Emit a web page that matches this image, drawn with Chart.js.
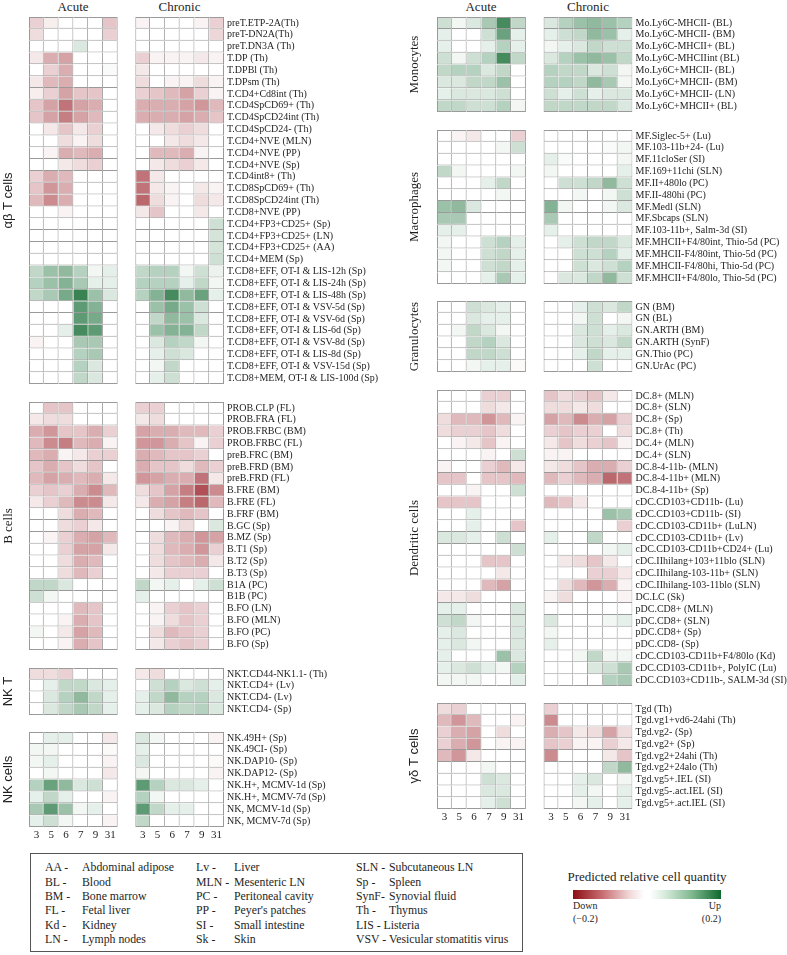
<!DOCTYPE html>
<html><head><meta charset="utf-8">
<script src="https://cdn.jsdelivr.net/npm/chart.js@4"></script>
<style>
body{margin:0;background:#fff;width:787px;height:955px;position:relative;overflow:hidden;font-family:"Liberation Serif",serif;color:#1e1e1e}
canvas{position:absolute}
.hd{position:absolute;font-family:"Liberation Serif",serif;font-size:13px;transform:translate(-50%,-50%);white-space:nowrap}
#legbox{position:absolute;left:30px;top:853px;width:493px;height:99px;border:1.5px solid #555;box-sizing:border-box}
.lt{position:absolute;font-family:"Liberation Serif",serif;font-size:11.8px;white-space:nowrap;transform:translateY(-50%);line-height:14px}
#cbar{position:absolute;left:573px;top:890px;width:148px;height:9px;
 background:linear-gradient(to right,rgb(140,15,20) 0%,rgb(200,110,115) 20%,rgb(240,215,215) 38%,#fff 48%,#fff 52%,rgb(215,235,220) 62%,rgb(130,185,145) 80%,rgb(15,105,45) 100%)}
.cb{position:absolute;font-family:"Liberation Serif",serif;font-size:10px;white-space:nowrap;line-height:12px}
</style></head><body>
<script>
// ---------------- data ----------------
const columns = ['3','5','6','7','9','31'];

const abtLabels = ['preT.ETP-2A(Th)','preT-DN2A(Th)','preT.DN3A (Th)','T.DP (Th)','T.DPBl (Th)','T.DPsm (Th)','T.CD4+Cd8int (Th)','T.CD4SpCD69+ (Th)','T.CD4SpCD24int (Th)','T.CD4SpCD24- (Th)','T.CD4+NVE (MLN)','T.CD4+NVE (PP)','T.CD4+NVE (Sp)','T.CD4int8+ (Th)','T.CD8SpCD69+ (Th)','T.CD8SpCD24int (Th)','T.CD8+NVE (PP)','T.CD4+FP3+CD25+ (Sp)','T.CD4+FP3+CD25+ (LN)','T.CD4+FP3+CD25+ (AA)','T.CD4+MEM (Sp)','T.CD8+EFF, OT-I & LIS-12h (Sp)','T.CD8+EFF, OT-I & LIS-24h (Sp)','T.CD8+EFF, OT-I & LIS-48h (Sp)','T.CD8+EFF, OT-I & VSV-5d (Sp)','T.CD8+EFF, OT-I & VSV-6d (Sp)','T.CD8+EFF, OT-I & LIS-6d (Sp)','T.CD8+EFF, OT-I & VSV-8d (Sp)','T.CD8+EFF, OT-I & LIS-8d (Sp)','T.CD8+EFF, OT-I & VSV-15d (Sp)','T.CD8+MEM, OT-I & LIS-100d (Sp)'];
const abtAcute = [
 [-0.04,-0.015,0,0,0,-0.05],[-0.03,0,0,0,0,-0.04],[0,0,0,0.03,0,0],[-0.02,-0.07,-0.08,0,0,0],
 [0,-0.04,-0.07,0,0,0.005],[-0.02,-0.06,-0.07,0,0,0],[-0.015,-0.04,-0.08,-0.05,-0.05,0],[-0.05,-0.08,-0.12,-0.08,-0.07,0],
 [-0.05,-0.08,-0.11,-0.08,-0.06,0],[0,-0.02,-0.05,-0.02,-0.04,0],[0,0,-0.03,-0.01,-0.03,0],[0,-0.01,-0.07,-0.06,-0.07,0],
 [0,0,-0.02,-0.03,-0.04,0],[-0.04,-0.07,-0.06,0,0,0],[-0.05,-0.09,-0.07,0,0,0],[-0.06,-0.10,-0.07,0,0,0],
 [0,0,-0.01,0,0,0],[0,0,0,0,0,0],[0,0,0,0,0,0],[0,0,0,0,0,0],[0,0,0,0,0,0],
 [0.05,0.08,0.09,0.06,0.01,0.02],[0.06,0.08,0.10,0.07,0.02,0.02],[0.05,0.07,0.11,0.16,0.08,0.03],
 [0,0,0,0.13,0.10,0],[0,0,0,0.13,0.11,0],[0,0,0.02,0.15,0.13,0],[-0.01,0,0,0.07,0.07,0],
 [0,0,0,0.06,0.07,0],[0,0,0,0.06,0.03,0],[0,0,0,0.05,0.03,0]];
const abtChronic = [
 [-0.01,0,0,0,-0.01,-0.04],[0,0,0,0,0,-0.035],[0,0,0,0,0,0],[-0.04,-0.01,-0.01,-0.01,-0.02,-0.01],
 [-0.02,0,0,0,0,0],[-0.03,0,-0.01,-0.01,-0.03,-0.01],[-0.04,-0.05,-0.06,-0.08,-0.04,-0.01],[-0.07,-0.07,-0.07,-0.08,-0.09,-0.06],
 [-0.07,-0.07,-0.07,-0.08,-0.07,-0.05],[0,-0.02,-0.03,-0.04,-0.03,0],[0,0,-0.02,-0.03,-0.02,0],[0,-0.06,-0.06,-0.07,-0.01,0],
 [0,-0.02,-0.03,-0.04,-0.02,0],[-0.12,-0.02,0,0,0,0],[-0.12,-0.02,-0.01,0,-0.02,-0.01],[-0.13,-0.03,-0.01,0,-0.03,-0.02],
 [-0.02,-0.05,0,0,-0.02,0],[0,0,0,0,0,0.04],[0,0,0,0,0,0.035],[0,0,0,0,0,0.035],[0,0,0,0,0,0.04],
 [0.05,0.06,0.06,0.01,0.04,0.015],[0.06,0.06,0.06,0.02,0.05,0.01],[0.06,0.10,0.15,0.09,0.12,0.02],
 [0,0.08,0.11,0.08,0.04,0],[0,0.05,0.09,0.08,0.03,0],[0,0.08,0.10,0.10,0.05,0],[0,0.03,0.06,0.05,0.01,0],
 [0,0.02,0.04,0.03,0,0],[0,0.01,0.05,0,0,0],[0,0.02,0.04,0,0,0]];

const bLabels = ['PROB.CLP (FL)','PROB.FRA (FL)','PROB.FRBC (BM)','PROB.FRBC (FL)','preB.FRC (BM)','preB.FRD (BM)','preB.FRD (FL)','B.FRE (BM)','B.FRE (FL)','B.FRF (BM)','B.GC (Sp)','B.MZ (Sp)','B.T1 (Sp)','B.T2 (Sp)','B.T3 (Sp)','B1A (PC)','B1B (PC)','B.FO (LN)','B.FO (MLN)','B.FO (PC)','B.FO (Sp)'];
const bAcute = [
 [0,-0.05,-0.05,0,0,0],[-0.02,-0.03,-0.03,0,0,0],[-0.07,-0.09,-0.05,-0.05,-0.07,-0.04],[-0.06,-0.10,-0.11,-0.06,-0.07,-0.01],
 [-0.06,-0.07,-0.01,-0.02,-0.04,-0.04],[-0.05,-0.07,-0.05,-0.03,-0.05,0],[-0.06,-0.08,-0.07,-0.06,-0.07,-0.02],[-0.04,-0.05,-0.04,-0.07,-0.10,-0.06],
 [-0.02,-0.04,-0.06,-0.10,-0.10,-0.02],[0,0,-0.03,-0.07,-0.06,0],[0,0,-0.03,-0.04,-0.02,0],[0,-0.01,-0.04,-0.07,-0.08,-0.06],
 [0,0,-0.04,-0.08,-0.08,-0.02],[0,0,-0.03,-0.07,-0.06,0],[0,0,-0.03,-0.06,-0.04,0],[0.05,0.05,0.03,0,0,0],
 [0.04,0.01,0,0,0,0],[0,0,0,-0.06,-0.05,0],[0,0,-0.01,-0.07,-0.05,0],[0.01,0,-0.02,-0.08,-0.06,0],[0,0,-0.01,-0.07,-0.05,0]];
const bChronic = [
 [-0.04,-0.04,0,0,0,0],[-0.02,-0.03,0,0,0,0],[-0.08,-0.07,-0.07,-0.06,-0.06,-0.04],[-0.09,-0.09,-0.07,-0.05,-0.01,-0.04],
 [-0.07,-0.06,-0.05,-0.05,-0.04,0],[-0.07,-0.05,-0.05,-0.03,-0.06,-0.04],[-0.09,-0.08,-0.07,-0.07,-0.12,-0.02],[-0.03,-0.05,-0.08,-0.11,-0.15,-0.10],
 [-0.02,-0.07,-0.08,-0.11,-0.13,-0.06],[0,-0.03,-0.05,-0.06,-0.05,0],[0,0,-0.01,-0.03,0,0.03],[0,-0.03,-0.06,-0.07,-0.09,-0.08],
 [0,-0.03,-0.06,-0.07,-0.09,-0.04],[0,-0.03,-0.05,-0.06,-0.07,-0.02],[0,-0.02,-0.04,-0.04,-0.04,0],[0.05,0.01,0.02,0,0.02,0.04],
 [0.02,0,0,0,0,0],[0,-0.01,-0.04,-0.05,-0.04,0],[0,-0.01,-0.03,-0.05,-0.04,0],[0,-0.03,-0.06,-0.05,-0.04,0],[0,-0.02,-0.04,-0.05,-0.04,0]];

const nktLabels = ['NKT.CD44-NK1.1- (Th)','NKT.CD4+ (Lv)','NKT.CD4- (Lv)','NKT.CD4- (Sp)'];
const nktAcute = [[-0.03,-0.03,-0.04,0,0,0],[0,0.02,0.05,0.05,0.03,0.02],[0,0.03,0.06,0.09,0.05,0.02],[0,0.03,0.05,0.07,0.05,0.02]];
const nktChronic = [[-0.02,-0.03,0,0,0,0],[0,0.04,0.06,0.03,0.04,0.02],[0.02,0.05,0.09,0.06,0.06,0.03],[0.02,0.03,0.06,0.05,0.06,0.03]];

const nkLabels = ['NK.49H+ (Sp)','NK.49CI- (Sp)','NK.DAP10- (Sp)','NK.DAP12- (Sp)','NK.H+, MCMV-1d (Sp)','NK.H+, MCMV-7d (Sp)','NK, MCMV-1d (Sp)','NK, MCMV-7d (Sp)'];
const nkAcute = [[0,0.02,0.02,0,0,-0.02],[0.01,0.01,0,0,0,-0.005],[0.01,0.02,0,0,0,-0.01],[0,0.01,0,0,0,-0.02],
 [0.06,0.12,0.09,0.03,0.04,0],[0.02,0.05,0.02,0,0,-0.01],[0.07,0.13,0.08,0.01,0.02,0],[0.02,0.04,0.01,0,0,-0.01]];
const nkChronic = [[0.03,0.01,0,0,0,-0.01],[0.02,0,0,0,0,0],[0.03,0,0,0,0,-0.005],[0.01,0,0,0,0,-0.01],
 [0.13,0.06,0.03,0.03,0.02,0],[0.06,0.01,0,0,0,0],[0.13,0.05,0.02,0.02,0,0],[0.05,0,0,0,0,0]];

const moLabels = ['Mo.Ly6C-MHCII- (BL)','Mo.Ly6C-MHCII- (BM)','Mo.Ly6C-MHCII+ (BL)','Mo.Ly6C-MHCIIint (BL)','Mo.Ly6C+MHCII- (BL)','Mo.Ly6C+MHCII- (BM)','Mo.Ly6C+MHCII- (LN)','Mo.Ly6C+MHCII+ (BL)'];
const moAcute = [[0.04,0.01,0.03,0.07,0.15,0.05],[0.02,0,0,0.04,0.12,0.02],[0.02,0,0,0.02,0.06,0.02],[0.04,0.01,0.04,0.06,0.15,0.05],
 [0.05,0.06,0.06,0.03,0.05,0],[0.03,0.03,0.05,0.05,0.08,0],[0.02,0.03,0.03,0.03,0.04,0],[0.05,0.05,0.04,0.04,0.06,0.01]];
const moChronic = [[0.03,0.06,0.08,0.09,0.08,0.06],[0.02,0.04,0.05,0.09,0.08,0.02],[0.01,0.02,0.03,0.05,0.04,0.04],[0.03,0.06,0.08,0.09,0.08,0.05],
 [0.06,0.05,0.05,0.03,0.04,0.01],[0.06,0.06,0.05,0.09,0.07,0.01],[0.04,0.02,0.04,0.02,0.03,0.03],[0.05,0.05,0.05,0.05,0.05,0.03]];

const mfLabels = ['MF.Siglec-5+ (Lu)','MF.103-11b+24- (Lu)','MF.11cloSer (SI)','MF.169+11chi (SLN)','MF.II+480lo (PC)','MF.II-480hi (PC)','MF.Medl (SLN)','MF.Sbcaps (SLN)','MF.103-11b+, Salm-3d (SI)','MF.MHCII+F4/80int, Thio-5d (PC)','MF.MHCII-F4/80int, Thio-5d (PC)','MF.MHCII-F4/80hi, Thio-5d (PC)','MF.MHCII+F4/80lo, Thio-5d (PC)'];
const mfAcute = [[0,-0.01,-0.02,0,0,-0.04],[0,0,0,0,0.01,0.04],[0,0,0,0,0,0],[0.05,0.01,0,0,0,0.01],[0,0,0,0.02,0.05,0],[0,0,0,0,0.01,0],
 [0.08,0.09,0.03,0,0,0],[0.07,0.07,0,0,0,0],[0.02,0.02,0,0,0,0],[0.01,0,0,0.04,0.06,0.02],[0.01,0,0,0.04,0.05,0.02],[0.01,0,0,0.04,0.05,0.02],[0,0,0,0.02,0.07,0.02]];
const mfChronic = [[0,0,0,0,0,0],[0,0,0,0,0.005,0.01],[0.02,0.005,0,0,0,0.01],[0.01,0,0,0,0,0.02],[0,0.04,0.04,0.05,0.09,0.04],[0,0,0.01,0,0.01,0.04],
 [0.10,0.01,0,0,0.01,0.03],[0.07,0,0,0,0,0],[0.02,0,0,0,0,0],[0,0.02,0.04,0.05,0.05,0.03],[0,0,0.04,0.04,0.06,0.02],[0,0,0.04,0.03,0.04,0.06],[0,0.03,0.03,0.05,0.09,0.04]];

const gnLabels = ['GN (BM)','GN (BL)','GN.ARTH (BM)','GN.ARTH (SynF)','GN.Thio (PC)','GN.UrAc (PC)'];
const gnAcute = [[0,0,0.04,0.03,0.02,0],[0,0,0.03,0.02,0.02,0],[0,0.01,0.05,0.03,0.01,0],[0,0,0.05,0.06,0.03,0],[0,0,0.05,0.05,0.04,0],[0,0,0.01,0.02,0.02,-0.005]];
const gnChronic = [[0,0,0.02,0.04,0.03,0.05],[0,0,0.01,0.04,0,0.01],[0,0,0.03,0.04,0.02,0.03],[0,0,0.03,0.04,0.03,0.05],[0,0,0.02,0.05,0.02,0.02],[0,0,0,0.04,0,0]];

const dcLabels = ['DC.8+ (MLN)','DC.8+ (SLN)','DC.8+ (Sp)','DC.8+ (Th)','DC.4+ (MLN)','DC.4+ (SLN)','DC.8-4-11b- (MLN)','DC.8-4-11b+ (MLN)','DC.8-4-11b+ (Sp)','cDC.CD103+CD11b- (Lu)','cDC.CD103+CD11b- (SI)','cDC.CD103-CD11b+ (LuLN)','cDC.CD103-CD11b+ (Lv)','cDC.CD103-CD11b+CD24+ (Lu)','cDC.IIhilang+103+11blo (SLN)','cDC.IIhilang-103-11b+ (SLN)','cDC.IIhilang-103-11blo (SLN)','DC.LC (Sk)','pDC.CD8+ (MLN)','pDC.CD8+ (SLN)','pDC.CD8+ (Sp)','pDC.CD8- (Sp)','cDC.CD103-CD11b+F4/80lo (Kd)','cDC.CD103-CD11b+, PolyIC (Lu)','cDC.CD103+CD11b-, SALM-3d (SI)'];
const dcAcute = [
 [0,0,0,-0.04,-0.04,0],[0,0,0,-0.03,-0.02,0],[-0.03,-0.06,-0.06,-0.09,-0.06,-0.01],[-0.03,-0.04,-0.04,-0.05,-0.03,0],
 [0,-0.01,-0.02,-0.05,-0.01,0],[0,0,0,-0.01,0,0.04],[-0.01,0,0,-0.04,-0.06,-0.02],[-0.05,-0.05,0,-0.05,-0.05,-0.06],
 [0,0,-0.01,0,0,0.04],[-0.05,-0.05,-0.05,0,0,0],[0,0,0.02,0,0,0],[0,0,0.02,0,0,-0.05],[0.03,0.03,0.02,0,0.04,0],
 [0,0,0,0,0,0.04],[0,0,0,-0.05,-0.05,0],[0,0,0,0,-0.02,0],[0,0,0,-0.06,-0.08,0],[-0.02,-0.02,-0.03,0,0,0],
 [0.02,0.02,0,0,0,0.03],[0.04,0.05,0.01,0,0,0.03],[0.02,0.03,0,0,0,0.03],[0.02,0.03,0.01,0,0,0.03],
 [0.02,0,0,0,0.08,0.03],[0.02,0.03,0.04,0.02,0.01,0.06],[0.01,0.01,0.01,0,0,0.02]];
const dcChronic = [
 [-0.05,-0.03,-0.04,-0.05,-0.02,0],[-0.03,-0.03,-0.02,-0.03,0,0],[-0.08,-0.06,-0.10,-0.07,-0.08,-0.04],[-0.04,-0.05,-0.04,-0.04,0,-0.03],
 [-0.02,-0.05,-0.03,-0.04,-0.05,-0.01],[-0.01,-0.01,0,0,0,0],[-0.02,-0.03,-0.05,-0.07,-0.07,-0.04],[-0.06,-0.04,-0.06,-0.07,-0.13,-0.12],
 [0,0,0,0,0,0],[-0.06,-0.05,-0.02,0,0,0],[0,0,0,0,0.08,0.07],[0,0,0,0,0,-0.04],[0.02,0,0,0.05,0,0],
 [0,0,0,0,0.01,0.02],[0,-0.02,-0.03,-0.05,-0.02,0],[0,0,0,-0.04,-0.04,-0.02],[0,-0.03,-0.06,-0.09,-0.07,-0.01],[-0.01,-0.03,0,0,0,-0.01],
 [0,0,0,0,0,0],[0.03,0,0,0,0.01,0.02],[0.01,0,0,0,0,0],[0.02,0,0,0,0,0],
 [0,0,0.01,0.05,0.01,0.01],[0,0,0,0.03,0.04,0.07],[0,0,0,0,0.06,0.07]];

const gdLabels = ['Tgd (Th)','Tgd.vg1+vd6-24ahi (Th)','Tgd.vg2- (Sp)','Tgd.vg2+ (Sp)','Tgd.vg2+24ahi (Th)','Tgd.vg2+24alo (Th)','Tgd.vg5+.IEL (SI)','Tgd.vg5-.act.IEL (SI)','Tgd.vg5+.act.IEL (SI)'];
const gdAcute = [[-0.03,-0.04,0,0,0,0],[-0.06,-0.09,-0.06,0,0,-0.01],[-0.04,-0.07,-0.08,0,-0.03,0],[-0.04,-0.07,-0.09,0,-0.01,-0.01],
 [-0.06,-0.09,-0.02,0,0,0],[0,0,0,0.01,0,0],[0,0,0,0.04,0.03,0],[0,0,0,0.03,0.03,0],[0,0,0,0.02,0.04,0]];
const gdChronic = [[-0.04,0,0,0,0,0],[-0.10,0,0,0,0,0],[-0.07,-0.05,-0.02,-0.03,-0.08,-0.03],[-0.05,-0.04,-0.01,-0.01,-0.04,-0.02],
 [-0.10,0,0,0,-0.02,-0.05],[0,0,0,0,0.05,0.09],[0,0,0.02,0.03,0,0.01],[0,0,0.02,0.01,0,0.02],[0,0,0.01,0.02,0,0.02]];

const legendCols = [
 [['AA -','Abdominal adipose'],['BL -','Blood'],['BM -','Bone marrow'],['FL -','Fetal liver'],['Kd -','Kidney'],['LN -','Lymph nodes']],
 [['Lv -','Liver'],['MLN -','Mesenteric LN'],['PC -','Peritoneal cavity'],['PP -',"Peyer's patches"],['SI -','Small intestine'],['Sk -','Skin']],
 [['SLN -','Subcutaneous LN'],['Sp -','Spleen'],['SynF-','Synovial fluid'],['Th -','Thymus'],['LIS - Listeria',''],['VSV - Vesicular stomatitis virus','']]];

// ---------------- drawing ----------------
const GAP = 1.19;        // width of the gap between Acute and Chronic panels, in cell units
const ROWH = 11.83;
const GRID = '#9a9a9a';
const SERIF = 'Liberation Serif';
const SANS = 'Liberation Sans';

function cellColor(v){
  const t = Math.min(Math.abs(v)/0.2, 1);
  const end = v < 0 ? [150,22,30] : [8,100,40];
  const c = end.map(e => Math.round(255 + (e-255)*t));
  return `rgb(${c[0]},${c[1]},${c[2]})`;
}

function buildGroup(spec){
  const {left, top, width, leftW, rightW, labels, acute, chronic, title, titleFamily, titlePad, showX} = spec;
  const n = labels.length;
  const xH = showX ? 16 : 0;
  const h = Math.round(n*ROWH) + xH;
  const cv = document.createElement('canvas');
  cv.width = width; cv.height = h;
  cv.style.left = left + 'px'; cv.style.top = top + 'px';
  document.body.appendChild(cv);
  const datasets = [];
  const addCols = vals => columns.forEach((c, ci) => datasets.push({
    data: labels.map(() => 1),
    backgroundColor: vals.map(r => cellColor(r[ci])),
    borderColor: GRID,
    borderWidth: ctx => ({top: ctx.dataIndex === 0 ? 1 : 0, left: ci === 0 ? 1 : 0, right: 1, bottom: 1}),
    borderSkipped: false,
    inflateAmount: 0
  }));
  addCols(acute);
  datasets.push({data: labels.map(() => GAP), backgroundColor: 'rgba(0,0,0,0)', borderWidth: 0});
  addCols(chronic);
  const tickPos = [];
  columns.forEach((c, i) => tickPos.push(i + 0.5));
  columns.forEach((c, i) => tickPos.push(6 + GAP + i + 0.5));
  const tickLabels = columns.concat(columns);
  new Chart(cv, {
    type: 'bar',
    data: {labels, datasets},
    options: {
      indexAxis: 'y', responsive: false, animation: false, events: [],
      layout: {padding: 0},
      datasets: {bar: {barPercentage: 1, categoryPercentage: 1}},
      plugins: {legend: {display: false}, tooltip: {enabled: false}},
      scales: {
        x: {type: 'linear', stacked: true, min: 0, max: 12 + GAP, display: showX,
            grid: {display: false, drawTicks: false}, border: {display: false},
            afterBuildTicks: ax => { ax.ticks = tickPos.map(v => ({value: v})); },
            ticks: {autoSkip: false, maxRotation: 0, padding: 2, color: '#1e1e1e',
                    font: {family: SERIF, size: 11}, callback: (v, i) => tickLabels[i]},
            afterFit: ax => { ax.height = xH; ax.paddingLeft = 0; ax.paddingRight = 0; }},
        y: {type: 'category', position: 'right', stacked: true, offset: true,
            grid: {display: false, drawTicks: false}, border: {display: false},
            ticks: {autoSkip: false, padding: 3, color: '#1e1e1e', font: {family: SERIF, size: 10}},
            afterFit: ax => { ax.width = rightW; ax.paddingTop = 0; ax.paddingBottom = 0; }},
        yt: {type: 'category', position: 'left', offset: true,
            grid: {display: false, drawTicks: false}, border: {display: false},
            ticks: {display: false},
            title: {display: true, text: title, color: '#1e1e1e', font: {family: titleFamily, size: 13},
                    padding: {top: titlePad, bottom: 0}},
            afterFit: ax => { ax.width = leftW; ax.paddingTop = 0; ax.paddingBottom = 0; }}
      }
    }
  });
}

const L = {left: 0, width: 400, leftW: 29, rightW: 176, titlePad: 1};
const R = {left: 400, width: 387, leftW: 37, rightW: 154.5, titlePad: 7};
buildGroup({...L, top: 17, labels: abtLabels, acute: abtAcute, chronic: abtChronic, title: 'αβ T cells', titleFamily: SANS});
buildGroup({...L, top: 402, labels: bLabels, acute: bAcute, chronic: bChronic, title: 'B cells', titleFamily: SERIF});
buildGroup({...L, top: 668, labels: nktLabels, acute: nktAcute, chronic: nktChronic, title: 'NK T', titleFamily: SANS});
buildGroup({...L, top: 732, labels: nkLabels, acute: nkAcute, chronic: nkChronic, title: 'NK cells', titleFamily: SANS, showX: true});
buildGroup({...R, top: 17, labels: moLabels, acute: moAcute, chronic: moChronic, title: 'Monocytes', titleFamily: SERIF});
buildGroup({...R, top: 130, labels: mfLabels, acute: mfAcute, chronic: mfChronic, title: 'Macrophages', titleFamily: SERIF});
buildGroup({...R, top: 301, labels: gnLabels, acute: gnAcute, chronic: gnChronic, title: 'Granulocytes', titleFamily: SERIF});
buildGroup({...R, top: 390, labels: dcLabels, acute: dcAcute, chronic: dcChronic, title: 'Dendritic cells', titleFamily: SERIF});
buildGroup({...R, top: 703, labels: gdLabels, acute: gdAcute, chronic: gdChronic, title: 'γδ T cells', titleFamily: SANS, showX: true});

// panel headers
[[73,'Acute'],[179.5,'Chronic'],[481,'Acute'],[588,'Chronic']].forEach(([x,t]) => {
  const d = document.createElement('div'); d.className = 'hd'; d.textContent = t;
  d.style.left = x + 'px'; d.style.top = '7px'; document.body.appendChild(d);
});

// abbreviation legend
const box = document.createElement('div'); box.id = 'legbox'; document.body.appendChild(box);
const colX = [[45,82],[196,234],[356,389]];
legendCols.forEach((col, ci) => col.forEach(([a, b], ri) => {
  const y = 867.3 + ri*14.35;
  [[a, colX[ci][0]], [b, colX[ci][1]]].forEach(([t, x]) => {
    if (!t) return;
    const d = document.createElement('div'); d.className = 'lt'; d.textContent = t;
    d.style.left = x + 'px'; d.style.top = y + 'px'; document.body.appendChild(d);
  });
}));

// colour scale
const ct = document.createElement('div'); ct.className = 'hd'; ct.style.fontSize = '13px';
ct.textContent = 'Predicted relative cell quantity'; ct.style.left = '647px'; ct.style.top = '877px';
document.body.appendChild(ct);
const cb = document.createElement('div'); cb.id = 'cbar'; document.body.appendChild(cb);
[['Down','573px',null,'900px'],['(\u22120.2)','573px',null,'913px'],['Up',null,'66px','900px'],['(0.2)',null,'66px','913px']].forEach(([t,l,r,tp]) => {
  const d = document.createElement('div'); d.className = 'cb'; d.textContent = t;
  if (l) d.style.left = l; if (r) d.style.right = r; d.style.top = tp; document.body.appendChild(d);
});
</script>
</body></html>
